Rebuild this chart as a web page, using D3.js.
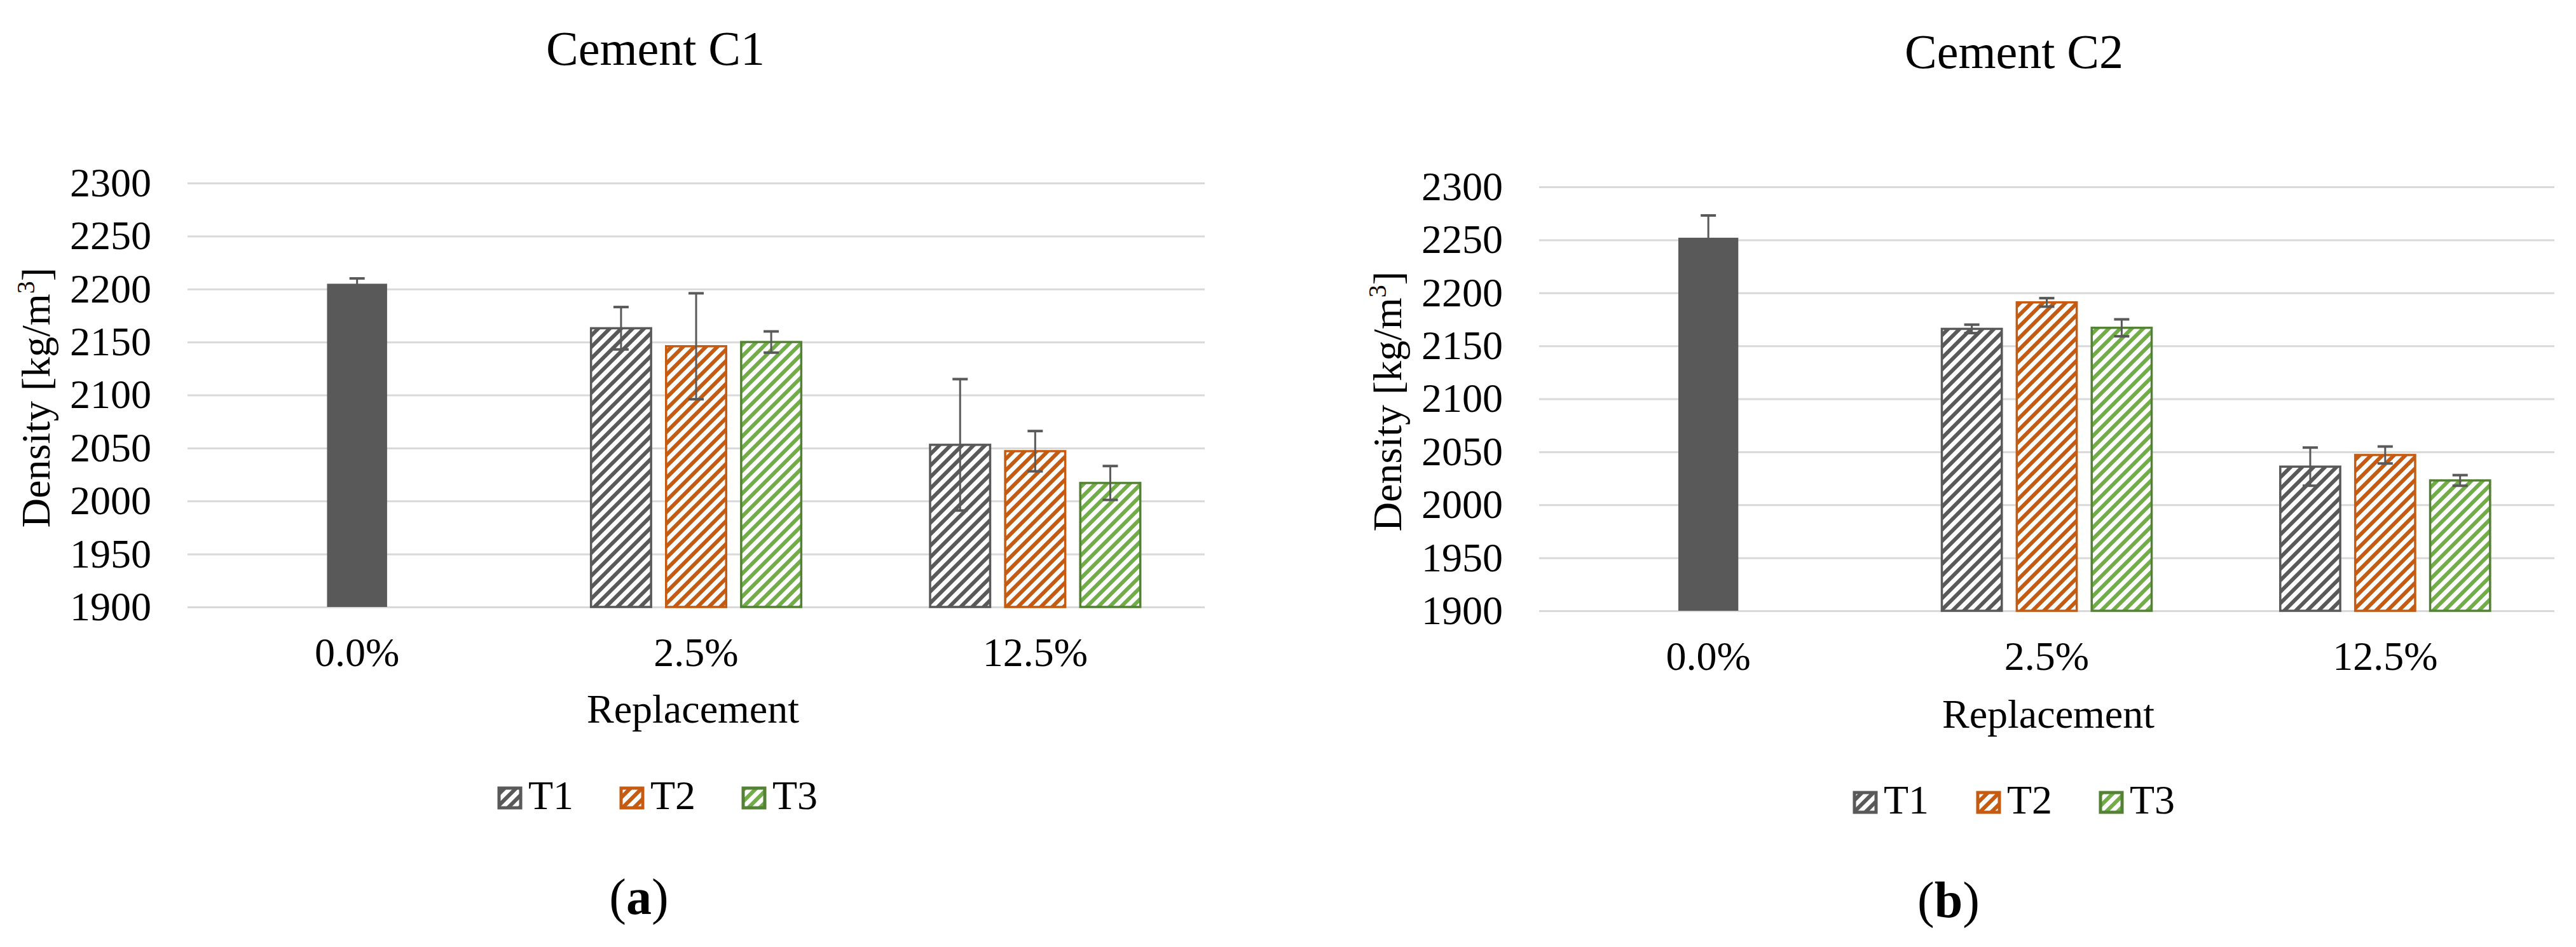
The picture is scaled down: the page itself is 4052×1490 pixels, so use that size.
<!DOCTYPE html>
<html>
<meta charset="utf-8">
<style>
body { margin: 0; background: #fff; }
text { font-family: "Liberation Serif", "Times New Roman", serif; fill: #000; }
</style>
<head>
<script src="https://d3js.org/d3.v7.min.js"></script>
</head>
<body>
<script>
// categories and series
var categories = ["0.0%", "2.5%", "12.5%"];
var seriesNames = ["T1", "T2", "T3"];
var yTicks = [1900, 1950, 2000, 2050, 2100, 2150, 2200, 2250, 2300];

// Cement C1 (hatched values for 2.5% and 12.5%)
var c1Control = [2205], c1ControlErr = [5];
var c1T1 = [2163, 2053], c1T1Err = [20, 62];
var c1T2 = [2146, 2047], c1T2Err = [50, 19];
var c1T3 = [2150, 2017], c1T3Err = [10, 16];

// Cement C2
var c2Control = [2252], c2ControlErr = [21];
var c2T1 = [2166, 2036], c2T1Err = [4, 18];
var c2T2 = [2191, 2047], c2T2Err = [4, 8];
var c2T3 = [2167, 2023], c2T3Err = [8, 5];

var hatch = ["#595959", "#C55A11", "#70AD47"];
var border = ["#595959", "#C55A11", "#548235"];
var errColor = "#595959";

var svg = d3.select("body").append("svg")
    .attr("width", 4052)
    .attr("height", 1490);

svg.append("rect").attr("width", 4052).attr("height", 1490).attr("fill", "#fff");

// diagonal hatch patterns
var defs = svg.append("defs");
hatch.forEach(function(c, i) {
  var p = defs.append("pattern")
      .attr("id", "hatch" + i)
      .attr("patternUnits", "userSpaceOnUse")
      .attr("width", 18)
      .attr("height", 18);
  p.append("rect").attr("width", 18).attr("height", 18).attr("fill", "#fff");
  p.append("path")
      .attr("d", "M-4.5,4.5 l9,-9 M0,18 l18,-18 M13.5,22.5 l9,-9")
      .attr("stroke", c)
      .attr("stroke-width", 6);
});

function drawPanel(o) {
  var g = svg.append("g");

  var x = d3.scaleBand().domain(categories).range([o.x0, o.x1]);
  var y = d3.scaleLinear().domain([1900, 2300]).range([o.yBot, o.yTop]);
  var groupW = x.bandwidth() * 0.62;
  var sub = d3.scaleBand().domain(seriesNames)
      .range([-groupW / 2, groupW / 2]).paddingInner(0.2);
  var barW = sub.bandwidth();

  // grid + y labels
  var ya = g.append("g")
      .attr("transform", "translate(" + o.x0 + ",0)")
      .call(d3.axisLeft(y).tickValues(yTicks).tickFormat(d3.format("d"))
        .tickSize(-(o.x1 - o.x0)).tickPadding(57));
  ya.select(".domain").remove();
  ya.selectAll("line").attr("stroke", "#d9d9d9").attr("stroke-width", 3);
  ya.selectAll("text").attr("font-size", 64).attr("fill", "#000")
      .style("font-family", "Liberation Serif");

  // x labels
  var xa = g.append("g")
      .attr("transform", "translate(0," + o.yBot + ")")
      .call(d3.axisBottom(x).tickSize(0).tickPadding(48));
  xa.select(".domain").remove();
  xa.selectAll("text").attr("font-size", 64).attr("fill", "#000")
      .style("font-family", "Liberation Serif");

  // control bar at 0.0%
  var cx0 = x(categories[0]) + x.bandwidth() / 2;
  g.append("rect")
      .attr("x", cx0 - barW / 2)
      .attr("y", y(o.control[0]))
      .attr("width", barW)
      .attr("height", y(1900) - y(o.control[0]))
      .attr("fill", "#595959");
  errBar(g, cx0, y(o.control[0] + o.controlErr[0]), y(o.control[0] - o.controlErr[0]));

  // hatched bars for 2.5% and 12.5%
  var series = [o.t1, o.t2, o.t3];
  var errs = [o.t1Err, o.t2Err, o.t3Err];
  categories.slice(1).forEach(function(cat, ci) {
    var cc = x(cat) + x.bandwidth() / 2;
    seriesNames.forEach(function(s, si) {
      var v = series[si][ci];
      var bx = cc + sub(s);
      g.append("rect")
          .attr("x", bx)
          .attr("y", y(v))
          .attr("width", barW)
          .attr("height", y(1900) - y(v))
          .attr("fill", "url(#hatch" + si + ")")
          .attr("stroke", border[si])
          .attr("stroke-width", 3.5);
      errBar(g, bx + barW / 2, y(v + errs[si][ci]), y(v - errs[si][ci]));
    });
  });

  // titles
  g.append("text")
      .attr("x", o.titleX).attr("y", o.titleY)
      .attr("text-anchor", "middle")
      .attr("font-size", 76)
      .text(o.title);

  g.append("text")
      .attr("x", o.xTitleX).attr("y", o.xTitleY)
      .attr("text-anchor", "middle")
      .attr("font-size", 64)
      .text("Replacement");

  var yt = g.append("text")
      .attr("transform", "translate(" + (o.x0 - 217) + "," + ((o.yTop + o.yBot) / 2 + 4) + ") rotate(-90)")
      .attr("text-anchor", "middle")
      .attr("font-size", 64);
  yt.append("tspan").text("Density [kg/m");
  yt.append("tspan").attr("dy", -24).attr("font-size", 40).text("3");
  yt.append("tspan").attr("dy", 24).text("]");

  // legend
  seriesNames.forEach(function(s, si) {
    var lx = o.legendX[si];
    g.append("rect")
        .attr("x", lx + 2).attr("y", o.legendY - 33)
        .attr("width", 34).attr("height", 31)
        .attr("fill", "url(#hatch" + si + ")")
        .attr("stroke", border[si])
        .attr("stroke-width", 5);
    g.append("text")
        .attr("x", lx + 48).attr("y", o.legendY)
        .attr("font-size", 64)
        .text(s);
  });

  // panel tag
  var tg = g.append("text")
      .attr("x", o.tagX).attr("y", o.tagY)
      .attr("text-anchor", "middle")
      .attr("font-size", 80);
  tg.append("tspan").text("(");
  tg.append("tspan").attr("font-weight", "bold").text(o.tag);
  tg.append("tspan").text(")");
}

function errBar(g, cx, yTop, yBottom) {
  g.append("line")
      .attr("x1", cx).attr("x2", cx)
      .attr("y1", yTop).attr("y2", yBottom)
      .attr("stroke", errColor).attr("stroke-width", 3);
  [yTop, yBottom].forEach(function(yy) {
    g.append("line")
        .attr("x1", cx - 12).attr("x2", cx + 12)
        .attr("y1", yy).attr("y2", yy)
        .attr("stroke", errColor).attr("stroke-width", 4);
  });
}

drawPanel({
  x0: 295, x1: 1895, yTop: 288, yBot: 955,
  title: "Cement C1", titleX: 1031, titleY: 102,
  xTitleX: 1090, xTitleY: 1137,
  legendX: [783, 975, 1167], legendY: 1273,
  tag: "a", tagX: 1005, tagY: 1438,
  control: c1Control, controlErr: c1ControlErr,
  t1: c1T1, t2: c1T2, t3: c1T3,
  t1Err: c1T1Err, t2Err: c1T2Err, t3Err: c1T3Err
});

drawPanel({
  x0: 2421, x1: 4018, yTop: 294, yBot: 961,
  title: "Cement C2", titleX: 3168, titleY: 107,
  xTitleX: 3222, xTitleY: 1145,
  legendX: [2915, 3109, 3302], legendY: 1280,
  tag: "b", tagX: 3065, tagY: 1443,
  control: c2Control, controlErr: c2ControlErr,
  t1: c2T1, t2: c2T2, t3: c2T3,
  t1Err: c2T1Err, t2Err: c2T2Err, t3Err: c2T3Err
});
</script>
</body>
</html>
